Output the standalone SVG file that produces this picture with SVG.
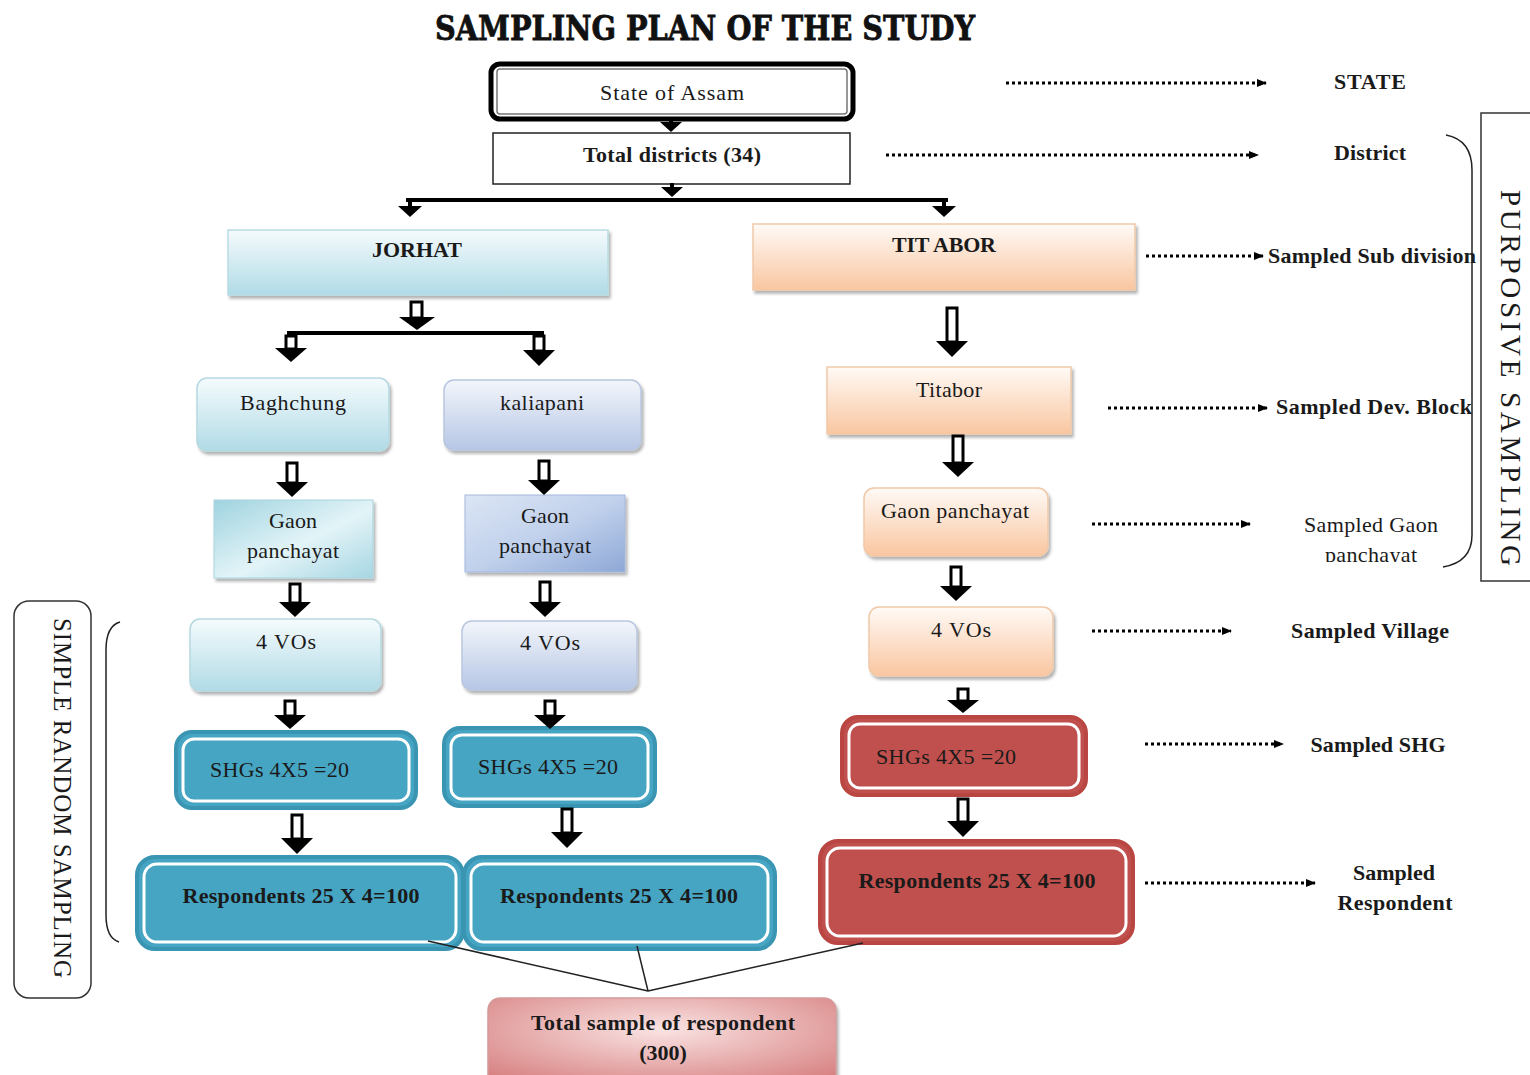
<svg xmlns="http://www.w3.org/2000/svg" width="1530" height="1075" viewBox="0 0 1530 1075">
<defs>
<style>
.t{font-family:"Liberation Serif","Times New Roman",serif;font-size:22px;fill:#1a1a1a}
.b{font-weight:bold}
.c{text-anchor:middle}
.stem{fill:#fff;stroke:#000;stroke-width:3}
.head{fill:#000}
.dot{stroke:#000;stroke-width:3;stroke-dasharray:3 3;fill:none}
.line{stroke:#000;stroke-width:4;fill:none}
.thin{stroke:#222;stroke-width:1.5;fill:none}
.teal{fill:#46a5c3;stroke:#3a95b3;stroke-width:4}
.red{fill:#c0504d;stroke:#b94643;stroke-width:4}
.inner{fill:none;stroke:#fff;stroke-width:3}
.sh{filter:url(#shadow)}
</style>
<filter id="shadow" x="-10%" y="-10%" width="130%" height="140%">
<feDropShadow dx="2" dy="3" stdDeviation="1.5" flood-color="#000" flood-opacity="0.3"/>
</filter>
<linearGradient id="gCyan" x1="0" y1="0" x2="0" y2="1">
<stop offset="0" stop-color="#f5fbfd"/><stop offset="1" stop-color="#b0dbe6"/>
</linearGradient>
<linearGradient id="gBlue" x1="0" y1="0" x2="0" y2="1">
<stop offset="0" stop-color="#f3f6fb"/><stop offset="1" stop-color="#b6c6e5"/>
</linearGradient>
<linearGradient id="gOrange" x1="0" y1="0" x2="0" y2="1">
<stop offset="0" stop-color="#fffaf6"/><stop offset="1" stop-color="#f9c6a0"/>
</linearGradient>
<linearGradient id="gGaonL" x1="0" y1="0" x2="1" y2="1">
<stop offset="0" stop-color="#9fd3df"/><stop offset="0.55" stop-color="#e3f4f8"/><stop offset="1" stop-color="#a6d6e2"/>
</linearGradient>
<linearGradient id="gGaonM" x1="0" y1="0" x2="1" y2="1">
<stop offset="0" stop-color="#dbe5f4"/><stop offset="0.5" stop-color="#c1d1ec"/><stop offset="1" stop-color="#8ea8d6"/>
</linearGradient>
<radialGradient id="gPink" cx="0.5" cy="0.35" r="0.7">
<stop offset="0" stop-color="#fae3e3"/><stop offset="1" stop-color="#d88383"/>
</radialGradient>
<marker id="ah" viewBox="0 0 10 10" refX="9" refY="5" markerWidth="10" markerHeight="10" markerUnits="userSpaceOnUse" orient="auto">
<path d="M0,1 L10,5 L0,9 Z" fill="#000"/>
</marker>
<clipPath id="clipGaon"><rect x="1290" y="505" width="170" height="57"/></clipPath>
</defs>

<rect width="1530" height="1075" fill="#fff"/>

<text id="title" x="435" y="40" textLength="540" lengthAdjust="spacingAndGlyphs" style="font-family:'DejaVu Serif',serif;font-weight:bold;font-size:34px;fill:#111;stroke:#111;stroke-width:0.8">SAMPLING PLAN OF THE STUDY</text>

<g id="n-state">
<rect x="491" y="64" width="362" height="55" rx="9" fill="#fff" stroke="#000" stroke-width="5"/>
<rect x="497" y="69" width="350" height="45" rx="3" fill="none" stroke="#777" stroke-width="1.5"/>
<text x="672" y="100" class="t c" textLength="144">State of Assam</text>
</g>

<g id="n-districts">
<rect x="493" y="133" width="357" height="51" fill="#fff" stroke="#222" stroke-width="1.5"/>
<text x="672" y="162" class="t c" style="font-weight:600" textLength="178">Total districts (34)</text>
</g>

<g id="n-jorhat">
<rect x="228" y="230" width="380" height="65" fill="url(#gCyan)" stroke="#b8dbe3" stroke-width="1.5" class="sh"/>
<text x="417" y="257" class="t c b" textLength="90">JORHAT</text>
</g>

<g id="n-titabor-sub">
<rect x="753" y="224" width="382" height="66" fill="url(#gOrange)" stroke="#f0c9a8" stroke-width="1.5" class="sh"/>
<text x="944" y="252" class="t c b" textLength="104">TIT ABOR</text>
</g>

<g id="n-baghchung">
<rect x="197" y="378" width="192" height="73" rx="10" fill="url(#gCyan)" stroke="#b6d9e1" stroke-width="1.5" class="sh"/>
<text x="293" y="410" class="t c" textLength="106">Baghchung</text>
</g>

<g id="n-kaliapani">
<rect x="444" y="380" width="197" height="70" rx="10" fill="url(#gBlue)" stroke="#b8c6e0" stroke-width="1.5" class="sh"/>
<text x="542" y="410" class="t c" textLength="84">kaliapani</text>
</g>

<g id="n-titabor-block">
<rect x="827" y="367" width="244" height="67" fill="url(#gOrange)" stroke="#f0c9a8" stroke-width="1.5" class="sh"/>
<text x="949" y="397" class="t c" textLength="66">Titabor</text>
</g>

<g id="n-gaon-l">
<rect x="214" y="500" width="159" height="78" fill="url(#gGaonL)" stroke="#a9d4de" stroke-width="1" class="sh"/>
<text x="293" y="528" class="t c" textLength="48">Gaon</text>
<text x="293" y="558" class="t c" textLength="92">panchayat</text>
</g>

<g id="n-gaon-m">
<rect x="465" y="495" width="160" height="77" fill="url(#gGaonM)" stroke="#a5b8dc" stroke-width="1" class="sh"/>
<text x="545" y="523" class="t c" textLength="48">Gaon</text>
<text x="545" y="553" class="t c" textLength="92">panchayat</text>
</g>

<g id="n-gaon-r">
<rect x="864" y="488" width="184" height="68" rx="10" fill="url(#gOrange)" stroke="#f0c9a8" stroke-width="1.5" class="sh"/>
<text x="955" y="518" class="t c" textLength="148">Gaon panchayat</text>
</g>

<g id="n-vos-l">
<rect x="190" y="619" width="191" height="72" rx="10" fill="url(#gCyan)" stroke="#b6d9e1" stroke-width="1.5" class="sh"/>
<text x="286" y="649" class="t c" textLength="60">4 VOs</text>
</g>

<g id="n-vos-m">
<rect x="462" y="621" width="175" height="69" rx="10" fill="url(#gBlue)" stroke="#b8c6e0" stroke-width="1.5" class="sh"/>
<text x="550" y="650" class="t c" textLength="60">4 VOs</text>
</g>

<g id="n-vos-r">
<rect x="869" y="607" width="184" height="69" rx="10" fill="url(#gOrange)" stroke="#f0c9a8" stroke-width="1.5" class="sh"/>
<text x="961" y="637" class="t c" textLength="60">4 VOs</text>
</g>

<g id="n-shg-l">
<rect x="176" y="732" width="240" height="76" rx="16" class="teal"/>
<rect x="183" y="739" width="226" height="62" rx="11" class="inner"/>
<text x="210" y="777" class="t" textLength="139">SHGs 4X5 =20</text>
</g>

<g id="n-shg-m">
<rect x="444" y="728" width="211" height="78" rx="16" class="teal"/>
<rect x="451" y="735" width="197" height="64" rx="11" class="inner"/>
<text x="478" y="774" class="t" textLength="140">SHGs 4X5 =20</text>
</g>

<g id="n-shg-r">
<rect x="842" y="717" width="244" height="78" rx="16" class="red"/>
<rect x="849" y="724" width="230" height="64" rx="11" class="inner"/>
<text x="876" y="764" class="t" textLength="140">SHGs 4X5 =20</text>
</g>

<g id="n-resp-l">
<rect x="137" y="857" width="326" height="92" rx="18" class="teal"/>
<rect x="144" y="864" width="312" height="78" rx="13" class="inner"/>
<text x="301" y="903" class="t c b" textLength="237">Respondents 25 X 4=100</text>
</g>

<g id="n-resp-m">
<rect x="464" y="857" width="311" height="92" rx="18" class="teal"/>
<rect x="471" y="864" width="297" height="78" rx="13" class="inner"/>
<text x="619" y="903" class="t c b" textLength="238">Respondents 25 X 4=100</text>
</g>

<g id="n-resp-r">
<rect x="820" y="841" width="313" height="102" rx="18" class="red"/>
<rect x="827" y="848" width="299" height="88" rx="13" class="inner"/>
<text x="977" y="888" class="t c b" textLength="237">Respondents 25 X 4=100</text>
</g>

<g id="n-total">
<rect x="488" y="998" width="348" height="90" rx="12" fill="url(#gPink)" stroke="#d49a9a" stroke-width="1.5" class="sh"/>
<text x="663" y="1030" class="t c b" textLength="264">Total sample of respondent</text>
<text x="663" y="1060" class="t c b">(300)</text>
</g>

<g id="connectors">
<!-- small solid arrows top -->
<rect x="669" y="118" width="4" height="6" fill="#000"/>
<polygon points="660,122 682,122 671,132" fill="#000"/>
<rect x="670" y="183" width="4" height="6" fill="#000"/>
<polygon points="661,187 683,187 672,197" fill="#000"/>
<line x1="406" y1="200" x2="948" y2="200" class="line"/>
<rect x="408" y="200" width="4" height="7" fill="#000"/>
<polygon points="398,206 422,206 410,217" fill="#000"/>
<rect x="942" y="200" width="4" height="7" fill="#000"/>
<polygon points="932,206 956,206 944,217" fill="#000"/>
<!-- Jorhat split -->
<rect x="411" y="302" width="11" height="16" class="stem"/>
<polygon points="399,317 435,317 417,330" class="head"/>
<line x1="287" y1="333" x2="544" y2="333" class="line"/>
<rect x="286" y="336" width="10" height="13" class="stem"/>
<polygon points="275,348 307,348 291,362" class="head"/>
<rect x="534" y="336" width="10" height="15" class="stem"/>
<polygon points="523,350 555,350 539,366" class="head"/>
<!-- Titabor down -->
<rect x="947" y="308" width="10" height="34" class="stem"/>
<polygon points="936,341 968,341 952,357" class="head"/>
<!-- column arrows -->
<rect x="287" y="463" width="10" height="20" class="stem"/>
<polygon points="276,482 308,482 292,497" class="head"/>
<rect x="539" y="461" width="10" height="20" class="stem"/>
<polygon points="528,480 560,480 544,495" class="head"/>
<rect x="953" y="436" width="10" height="27" class="stem"/>
<polygon points="942,462 974,462 958,477" class="head"/>

<rect x="290" y="584" width="10" height="19" class="stem"/>
<polygon points="279,602 311,602 295,617" class="head"/>
<rect x="540" y="582" width="10" height="21" class="stem"/>
<polygon points="529,602 561,602 545,617" class="head"/>
<rect x="951" y="567" width="10" height="20" class="stem"/>
<polygon points="940,586 972,586 956,601" class="head"/>

<rect x="285" y="701" width="10" height="15" class="stem"/>
<polygon points="274,715 306,715 290,729" class="head"/>
<rect x="545" y="701" width="10" height="15" class="stem"/>
<polygon points="534,715 566,715 550,729" class="head"/>
<rect x="958" y="689" width="10" height="12" class="stem"/>
<polygon points="947,700 979,700 963,713" class="head"/>

<rect x="292" y="815" width="10" height="24" class="stem"/>
<polygon points="281,838 313,838 297,854" class="head"/>
<rect x="562" y="809" width="10" height="24" class="stem"/>
<polygon points="551,832 583,832 567,848" class="head"/>
<rect x="958" y="799" width="10" height="23" class="stem"/>
<polygon points="947,821 979,821 963,837" class="head"/>

<!-- lines to total -->
<line x1="428" y1="941" x2="648" y2="991" class="thin"/>
<line x1="637" y1="946" x2="648" y2="991" class="thin"/>
<line x1="863" y1="943" x2="648" y2="991" class="thin"/>

<!-- dotted arrows to right labels -->
<line x1="1006" y1="83" x2="1266" y2="83" class="dot" marker-end="url(#ah)"/>
<line x1="886" y1="155" x2="1258" y2="155" class="dot" marker-end="url(#ah)"/>
<line x1="1146" y1="256" x2="1263" y2="256" class="dot" marker-end="url(#ah)"/>
<line x1="1108" y1="408" x2="1267" y2="408" class="dot" marker-end="url(#ah)"/>
<line x1="1092" y1="524" x2="1250" y2="524" class="dot" marker-end="url(#ah)"/>
<line x1="1092" y1="631" x2="1231" y2="631" class="dot" marker-end="url(#ah)"/>
<line x1="1145" y1="744" x2="1283" y2="744" class="dot" marker-end="url(#ah)"/>
<line x1="1145" y1="883" x2="1315" y2="883" class="dot" marker-end="url(#ah)"/>
</g>

<g id="labels">
<text x="1370" y="89" class="t c b" textLength="72">STATE</text>
<text x="1370" y="160" class="t c b" textLength="72">District</text>
<text x="1268" y="263" class="t b" textLength="208">Sampled Sub division</text>
<text x="1276" y="414" class="t b" textLength="196">Sampled Dev. Block</text>
<text x="1371" y="532" class="t c" textLength="134">Sampled Gaon</text>
<text x="1371" y="562" class="t c" clip-path="url(#clipGaon)" textLength="92">panchayat</text>
<text x="1370" y="638" class="t c b" textLength="158">Sampled Village</text>
<text x="1378" y="752" class="t c b" textLength="135">Sampled SHG</text>
<text x="1394" y="880" class="t c b" textLength="82">Sampled</text>
<text x="1395" y="910" class="t c b" textLength="115">Respondent</text>
</g>

<g id="purposive">
<path d="M1446,135 Q1472,140 1472,170 L1472,535 Q1472,562 1443,567" class="thin"/>
<path d="M1530,113 L1481,113 L1481,581 L1530,581" fill="none" stroke="#333" stroke-width="1.5"/>
<text transform="translate(1501,378) rotate(90)" class="t c" style="font-size:29px" textLength="376">PURPOSIVE SAMPLING</text>
</g>

<g id="simple-random">
<rect x="14" y="601" width="77" height="397" rx="15" fill="none" stroke="#333" stroke-width="1.5"/>
<path d="M120,622 Q106,626 106,650 L106,915 Q106,938 119,942" class="thin"/>
<text transform="translate(54,798) rotate(90)" class="t c" style="font-size:25px" textLength="360">SIMPLE RANDOM SAMPLING</text>
</g>
</svg>
